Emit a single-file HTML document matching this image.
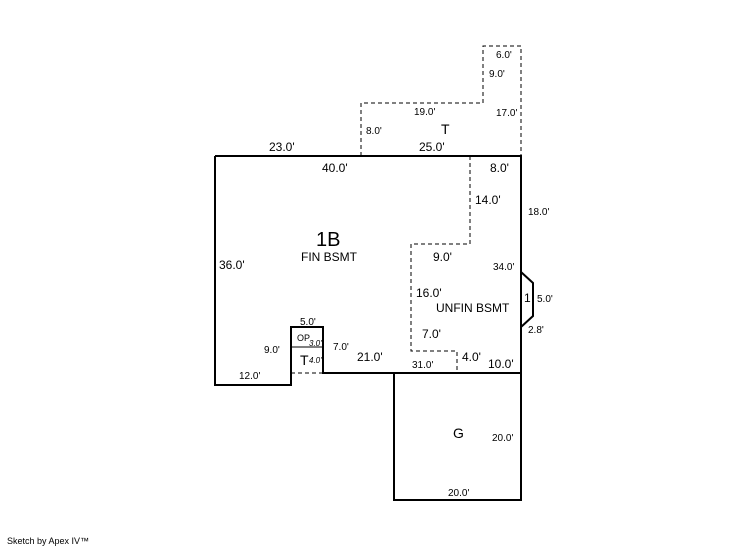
<!DOCTYPE html>
<html><head><meta charset="utf-8"><style>
html,body{margin:0;padding:0;background:#fff;}
svg{display:block;}
text{font-family:"Liberation Sans",Arial,sans-serif;fill:#000;}
.s{font-size:10px}.m{font-size:12px}.l{font-size:14px}
</style></head><body>
<svg width="746" height="547" viewBox="0 0 746 547" xmlns="http://www.w3.org/2000/svg">
<g fill="none" stroke="#000" stroke-width="1" stroke-dasharray="4,3">
<polyline points="361,156 361,103 483,103 483,46 521,46 521,156"/>
<polyline points="470,156 470,244 411,244 411,351 457,351 457,373"/>
<line x1="291" y1="373" x2="323" y2="373"/>
</g>
<g fill="none" stroke="#000" stroke-width="2">
<polyline points="215,156 521,156 521,500 394,500 394,373 323,373 323,327 291,327 291,385 215,385 215,156"/>
<line x1="323" y1="373" x2="521" y2="373"/>
<polyline points="521,272 533,283 533,316 521,327"/>
</g>
<line x1="291" y1="347" x2="323" y2="347" stroke="#000" stroke-width="1"/>
<text class="m" x="269" y="151">23.0'</text>
<text class="m" x="419" y="151">25.0'</text>
<text class="l" x="441" y="134">T</text>
<text class="s" x="414" y="115">19.0'</text>
<text class="s" x="366" y="134">8.0'</text>
<text class="s" x="496" y="58">6.0'</text>
<text class="s" x="489" y="77">9.0'</text>
<text class="s" x="496" y="116">17.0'</text>
<text class="m" x="322" y="172">40.0'</text>
<text class="m" x="490" y="172">8.0'</text>
<text class="m" x="475" y="204">14.0'</text>
<text class="s" x="528" y="215">18.0'</text>
<text style="font-size:20px" x="316" y="246">1B</text>
<text class="m" x="301" y="261">FIN BSMT</text>
<text class="m" x="219" y="269">36.0'</text>
<text class="m" x="433" y="261">9.0'</text>
<text class="s" x="493" y="270">34.0'</text>
<text class="m" x="416" y="297">16.0'</text>
<text class="m" x="436" y="312">UNFIN BSMT</text>
<text class="m" x="524" y="302">1</text>
<text class="s" x="537" y="302">5.0'</text>
<text class="s" x="528" y="333">2.8'</text>
<text class="m" x="422" y="338">7.0'</text>
<text class="s" x="300" y="325">5.0'</text>
<text class="s" x="297" y="341" style="font-size:9px">OP</text>
<text class="s" x="309" y="346" style="font-size:8px;font-style:italic">3.0'</text>
<text class="s" x="264" y="353">9.0'</text>
<text class="s" x="333" y="350">7.0'</text>
<text class="l" x="300" y="365">T</text>
<text style="font-size:8px;font-style:italic" x="309" y="363">4.0'</text>
<text class="m" x="357" y="361">21.0'</text>
<text class="s" x="412" y="368">31.0'</text>
<text class="m" x="462" y="361">4.0'</text>
<text class="m" x="488" y="368">10.0'</text>
<text class="s" x="239" y="379">12.0'</text>
<text class="l" x="453" y="438">G</text>
<text class="s" x="492" y="441">20.0'</text>
<text class="s" x="448" y="496">20.0'</text>
<text style="font-size:9px" x="7" y="544">Sketch by Apex IV™</text>
</svg>
</body></html>
